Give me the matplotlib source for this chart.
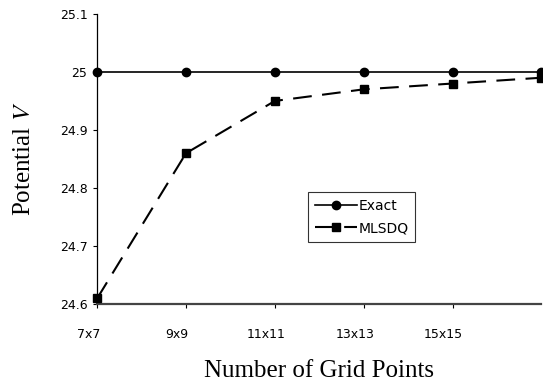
import matplotlib
matplotlib.use("Agg")
import matplotlib.pyplot as plt
import matplotlib.transforms as mtransforms

plt.rcParams["mathtext.fontset"] = "stix"

# data
grid_labels = ["7x7", "9x9", "11x11", "13x13", "15x15", "17x17"]
exact_vals  = [25.0, 25.0, 25.0, 25.0, 25.0, 25.0]
mlsdq_vals  = [24.61, 24.86, 24.95, 24.97, 24.98, 24.99]
y_ticks     = [24.6, 24.7, 24.8, 24.9, 25.0, 25.1]
y_ticklabels = ["24.6", "24.7", "24.8", "24.9", "25", "25.1"]

x = list(range(len(grid_labels)))

fig = plt.figure(figsize=(5.43, 3.85), dpi=100)
ax = fig.add_axes([0.179, 0.21, 0.818, 0.754])

ax.plot(x, exact_vals, color="black", lw=1.2, marker="o", ms=6,
        label="Exact", clip_on=False, zorder=3)
ax.plot(x, mlsdq_vals, color="black", lw=1.5, ls=(0, (9, 5)), marker="s",
        ms=5.5, label="MLSDQ", clip_on=False, zorder=3)

ax.set_xlim(0, 5)
ax.set_ylim(24.6, 25.1)
ax.set_yticks(y_ticks)
ax.set_yticklabels(y_ticklabels, family="DejaVu Sans", fontsize=9)
ax.set_xticks(x[:5])
ax.set_xticklabels(grid_labels[:5], family="DejaVu Sans", fontsize=9)
ax.tick_params(axis="y", length=3, width=0.8, pad=4)
ax.tick_params(axis="x", length=3, width=0.8, pad=14)

# category labels sit a little left of their ticks in the original
shift = mtransforms.ScaledTranslation(-9 / 100, 0, fig.dpi_scale_trans)
for lab in ax.get_xticklabels():
    lab.set_transform(lab.get_transform() + shift)

for side in ["top", "right"]:
    ax.spines[side].set_visible(False)
ax.spines["left"].set_linewidth(0.9)
ax.spines["bottom"].set_linewidth(1.6)
ax.spines["bottom"].set_color("#444444")

ax.set_xlabel("Number of Grid Points", family="Liberation Serif",
              fontsize=18, labelpad=14)
ax.set_ylabel("Potential $V$", family="Liberation Serif", fontsize=18,
              labelpad=18)

leg = ax.legend(loc="center left", bbox_to_anchor=(0.475, 0.30),
                prop={"family": "DejaVu Sans", "size": 10},
                frameon=True, fancybox=False, edgecolor="black",
                handlelength=3.0, handletextpad=0.1, borderpad=0.5,
                labelspacing=0.6, borderaxespad=0)
leg.get_frame().set_linewidth(0.8)

fig.savefig("out.png", dpi=100)
